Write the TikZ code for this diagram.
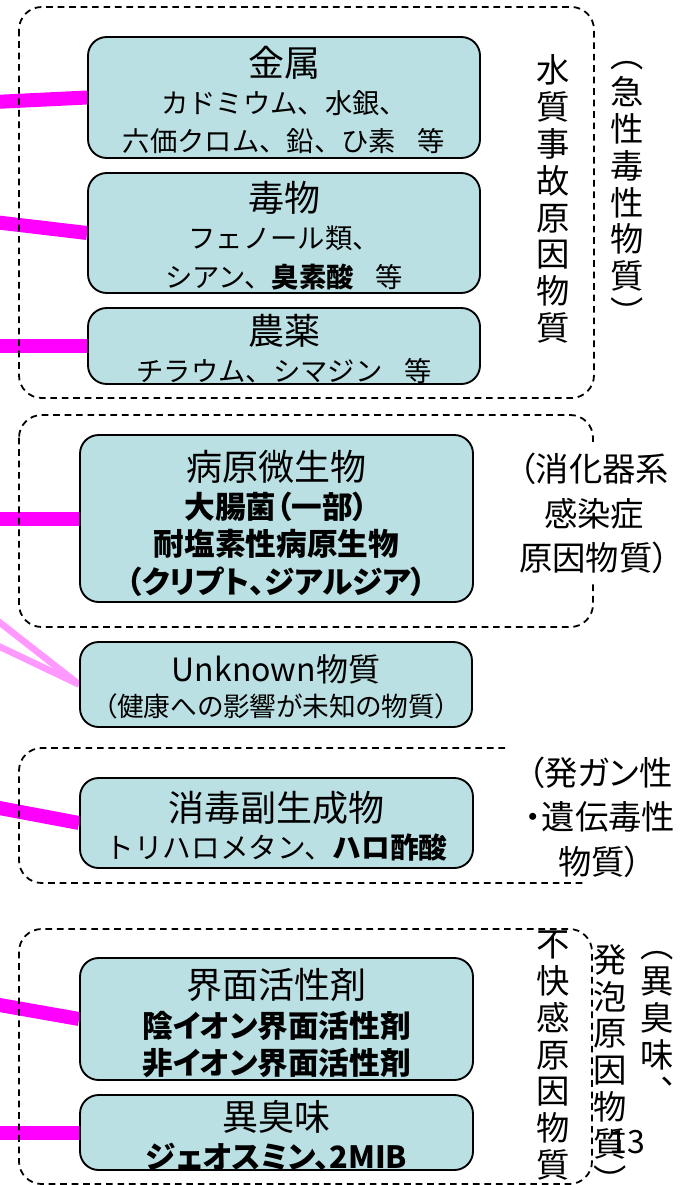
\documentclass[tikz,border=0pt]{standalone}
\usepackage{fontspec}
\setmainfont{Noto Sans CJK JP}
\newfontfamily\pfont{Noto Sans CJK JP}[RawFeature=+palt]
\usetikzlibrary{backgrounds}
\definecolor{boxfill}{RGB}{187,224,227}
\definecolor{magline}{RGB}{255,0,255}
\definecolor{pinkline}{RGB}{255,153,255}
\newcommand\vr{\rule[-0.12em]{0pt}{1em}}
\tikzset{
  grp/.style={draw=black, line width=1.35pt, dash pattern=on 5pt off 3.6pt, rounded corners=17pt},
  item/.style={draw=black, line width=1.4pt, fill=boxfill, rounded corners=14pt, inner sep=0pt},
  link/.style={draw=magline, line width=10.5pt},
  weak/.style={draw=pinkline, line width=5pt},
  txt/.style={inner sep=0pt, execute at begin node=\vr},
  ttl/.style={txt, font=\fontsize{27}{30}\selectfont},
  sub/.style={txt, font=\fontsize{20.5}{24}\selectfont},
  psub/.style={txt, font=\pfont\fontsize{20}{24}\selectfont},
  bsub/.style={txt, font=\pfont\bfseries\fontsize{23}{26}\selectfont},
  lbl/.style={align=center, inner sep=0pt, font=\pfont\fontsize{25}{33.4}\selectfont},
  vcol/.style={align=center, inner sep=0pt, font=\fontsize{25}{27.6}\selectfont},
}
\begin{document}
\begin{tikzpicture}[x=0.75pt,y=-0.75pt]
\useasboundingbox (0,0) rectangle (688,1185);
% group frames
\draw[grp] (19,7) rectangle (594,398);
\draw[grp] (19,415) rectangle (593,627);
\draw[grp] (505,748) -- (19,748) -- (19,883) -- (585,883);
\draw[grp] (19,929) rectangle (592,1184);
% boxes
\node[item, minimum width=294pt, minimum height=90.75pt] (b1) at (284,97.5) {};
\node[item, minimum width=294pt, minimum height=90pt] (b2) at (284,233) {};
\node[item, minimum width=294pt, minimum height=57pt] (b3) at (284,346) {};
\node[item, minimum width=294.75pt, minimum height=125.25pt] (b4) at (276.5,518.5) {};
\node[item, minimum width=294pt, minimum height=63.75pt] (b5) at (276,684.5) {};
\node[item, minimum width=294.75pt, minimum height=67.5pt] (b6) at (276.5,823) {};
\node[item, minimum width=294.75pt, minimum height=91.5pt] (b7) at (276.5,1019) {};
\node[item, minimum width=294.75pt, minimum height=56.25pt] (b8) at (276.5,1132.5) {};
% box texts
\node[ttl] (t1a) at (284,63) {金属};
\node[sub] (t1b) at (284,103) {カドミウム、水銀、};
\node[sub] (t1c) at (284,141) {六価クロム、鉛、ひ素\hspace{0.8em}等};
\node[ttl] (t2a) at (284,198) {毒物};
\node[sub] (t2b) at (284,238) {フェノール類、};
\node[sub] (t2c) at (284,277) {シアン、\textbf{臭素酸}\hspace{0.8em}等};
\node[ttl] (t3a) at (284,331) {農薬};
\node[sub] (t3b) at (284,371) {チラウム、シマジン\hspace{0.8em}等};
\node[ttl] (t4a) at (276.5,467) {病原微生物};
\node[bsub] (t4b) at (276.5,507) {大腸菌（一部）};
\node[bsub] (t4c) at (276.5,544) {耐塩素性病原生物};
\node[bsub] (t4d) at (276.5,582) {（クリプト、ジアルジア）};
\node[txt, font=\fontsize{24}{28}\selectfont] (t5a) at (276,669) {Unknown物質};
\node[psub] (t5b) at (276,706) {（健康への影響が未知の物質）};
\node[ttl] (t6a) at (276.5,808) {消毒副生成物};
\node[sub, font=\fontsize{21.5}{24}\selectfont] (t6b) at (276.5,848) {トリハロメタン、\textbf{ハロ酢酸}};
\node[ttl] (t7a) at (276.5,985) {界面活性剤};
\node[bsub] (t7b) at (276.5,1026) {陰イオン界面活性剤};
\node[bsub] (t7c) at (276.5,1063) {非イオン界面活性剤};
\node[ttl] (t8a) at (276.5,1117) {異臭味};
\node[bsub] (t8b) at (276.5,1157) {ジェオスミン、2MIB};
% side labels
\node[lbl, fill=white, inner sep=5pt] (l2) at (594,513.5) {\vr（消化器系\\\vr 感染症\\\vr 原因物質）};
\node[lbl] (l3) at (600,817) {\vr（発ガン性\\\vr・遺伝毒性\\\vr 物質）};
\node[vcol] (v1) at (553,199) {\vr 水\\\vr 質\\\vr 事\\\vr 故\\\vr 原\\\vr 因\\\vr 物\\\vr 質};
\node[vcol] (v2) at (627,184) {\vr ︵\\\vr 急\\\vr 性\\\vr 毒\\\vr 性\\\vr 物\\\vr 質\\\vr ︶};
\node[vcol] (v3) at (553,1054.5) {\vr 不\\\vr 快\\\vr 感\\\vr 原\\\vr 因\\\vr 物\\\vr 質};
\node[vcol] (v4) at (610,1070) {\vr 発\\\vr 泡\\\vr 原\\\vr 因\\\vr 物\\\vr 質\\\vr ︶};
\node[vcol] (v5) at (657,1018) {\vr ︵\\\vr 異\\\vr 臭\\\vr 味\\\vr ︑};
\node[txt, font=\fontsize{24}{26}\selectfont] (pg) at (627,1141) {13};
% connectors
\coordinate (s1) at (-6,102);
\coordinate (s2) at (-6,222);
\coordinate (s3) at (-6,346);
\coordinate (s4) at (-6,518.5);
\coordinate (s5a) at (-6,618);
\coordinate (s5b) at (-6,644);
\coordinate (s6) at (-6,807);
\coordinate (s7) at (-6,1004);
\coordinate (s8) at (-6,1132.5);
\begin{scope}[on background layer]
\draw[link] (s1) -- (b1.west);
\draw[link] (s2) -- (b2.west);
\draw[link] (s3) -- (b3.west);
\draw[link] (s4) -- (b4.west);
\draw[weak] (s5a) -- (b5.west);
\draw[weak] (s5b) -- (b5.west);
\draw[link] (s6) -- (b6.west);
\draw[link] (s7) -- (b7.west);
\draw[link] (s8) -- (b8.west);
\end{scope}
\end{tikzpicture}
\end{document}
